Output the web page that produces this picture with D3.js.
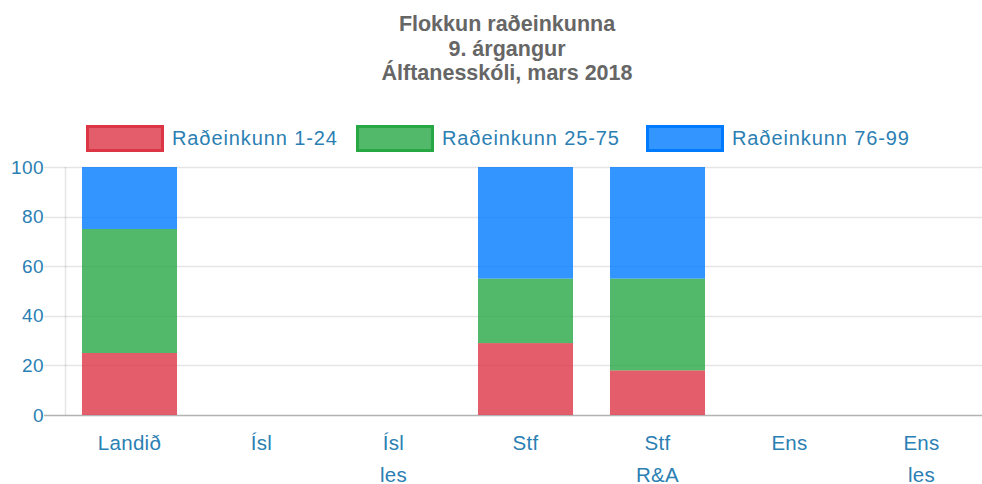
<!DOCTYPE html>
<html>
<head>
<meta charset="utf-8">
<script src="https://cdn.jsdelivr.net/npm/d3@7"></script>
<style>
  body { margin: 0; background: #fff; }
  svg text { font-family: "Liberation Sans", Arial, sans-serif; }
</style>
</head>
<body>
<svg id="chart" width="982" height="484"></svg>
<script>
const categories = [['Landið'], ['Ísl'], ['Ísl', 'les'], ['Stf'], ['Stf', 'R&A'], ['Ens'], ['Ens', 'les']];
const seriesNames = ['Raðeinkunn 1-24', 'Raðeinkunn 25-75', 'Raðeinkunn 76-99'];
const low = [25, 0, 0, 29, 18, 0, 0];
const mid = [50, 0, 0, 26, 37, 0, 0];
const high = [25, 0, 0, 45, 45, 0, 0];
const yTicks = [0, 20, 40, 60, 80, 100];
const titleLines = ['Flokkun raðeinkunna', '9. árgangur', 'Álftanesskóli, mars 2018'];

const fills = ['rgba(220,53,69,0.8)', 'rgba(40,167,69,0.8)', 'rgba(0,123,255,0.8)'];
const strokes = ['rgb(220,53,69)', 'rgb(40,167,69)', 'rgb(0,123,255)'];
const tickColor = '#2b80b3';

const svg = d3.select('#chart');
const keys = categories.map(c => c.join(' '));

const x = d3.scaleBand()
  .domain(keys)
  .range([63.5, 987.5])
  .paddingInner(0.28)
  .paddingOuter(0.14);

const y = d3.scaleLinear()
  .domain([0, 100])
  .range([415, 167]);

// title
svg.append('g')
  .selectAll('text')
  .data(titleLines)
  .enter()
  .append('text')
  .attr('x', 507)
  .attr('y', (d, i) => 31 + i * 24.5)
  .attr('text-anchor', 'middle')
  .attr('font-size', 21.5)
  .attr('font-weight', 'bold')
  .attr('fill', '#666')
  .text(d => d);

// grid
const grid = svg.append('g');
grid.selectAll('line')
  .data(yTicks)
  .enter()
  .append('line')
  .attr('x1', 44)
  .attr('x2', 982)
  .attr('y1', d => Math.round(y(d)) + 0.5)
  .attr('y2', d => Math.round(y(d)) + 0.5)
  .attr('stroke', d => d === 0 ? 'rgba(0,0,0,0.3)' : 'rgba(0,0,0,0.1)')
  .attr('stroke-width', 1.5);

grid.append('line')
  .attr('x1', 65.5).attr('x2', 65.5)
  .attr('y1', y(100)).attr('y2', y(0))
  .attr('stroke', 'rgba(0,0,0,0.1)')
  .attr('stroke-width', 1.5);

// y axis labels
svg.append('g')
  .selectAll('text')
  .data(yTicks)
  .enter()
  .append('text')
  .attr('x', 44)
  .attr('y', d => y(d))
  .attr('dy', '0.35em')
  .attr('text-anchor', 'end')
  .attr('font-size', 19)
  .attr('letter-spacing', 0.4)
  .attr('fill', tickColor)
  .text(d => d);

// stacked bars
const rows = keys.map((k, i) => ({key: k, low: low[i], mid: mid[i], high: high[i]}));
const stacked = d3.stack().keys(['low', 'mid', 'high'])(rows);

svg.append('g')
  .selectAll('g')
  .data(stacked)
  .enter()
  .append('g')
  .attr('fill', (d, i) => fills[i])
  .selectAll('rect')
  .data(d => d.filter(s => s[1] > s[0]))
  .enter()
  .append('rect')
  .attr('x', s => x(s.data.key))
  .attr('width', x.bandwidth())
  .attr('y', s => y(s[1]))
  .attr('height', s => y(s[0]) - y(s[1]));

// x axis labels
svg.append('g')
  .selectAll('text')
  .data(categories)
  .enter()
  .append('text')
  .attr('text-anchor', 'middle')
  .attr('font-size', 20.5)
  .attr('letter-spacing', 0.3)
  .attr('fill', tickColor)
  .each(function(d) {
    const cx = x(d.join(' ')) + x.bandwidth() / 2;
    d3.select(this).selectAll('tspan')
      .data(d)
      .enter()
      .append('tspan')
      .attr('x', cx)
      .attr('y', (t, i) => 450 + i * 32)
      .text(t => t);
  });

// legend
const legendX = [86, 356, 646];
const legend = svg.append('g')
  .selectAll('g')
  .data(seriesNames)
  .enter()
  .append('g')
  .attr('transform', (d, i) => `translate(${legendX[i]},125)`);

legend.append('rect')
  .attr('x', 1.5).attr('y', 1.5)
  .attr('width', 75).attr('height', 24)
  .attr('fill', (d, i) => fills[i])
  .attr('stroke', (d, i) => strokes[i])
  .attr('stroke-width', 3);

legend.append('text')
  .attr('x', 86)
  .attr('y', 19.5)
  .attr('font-size', 20)
  .attr('letter-spacing', 0.9)
  .attr('fill', tickColor)
  .text(d => d);
</script>
</body>
</html>
